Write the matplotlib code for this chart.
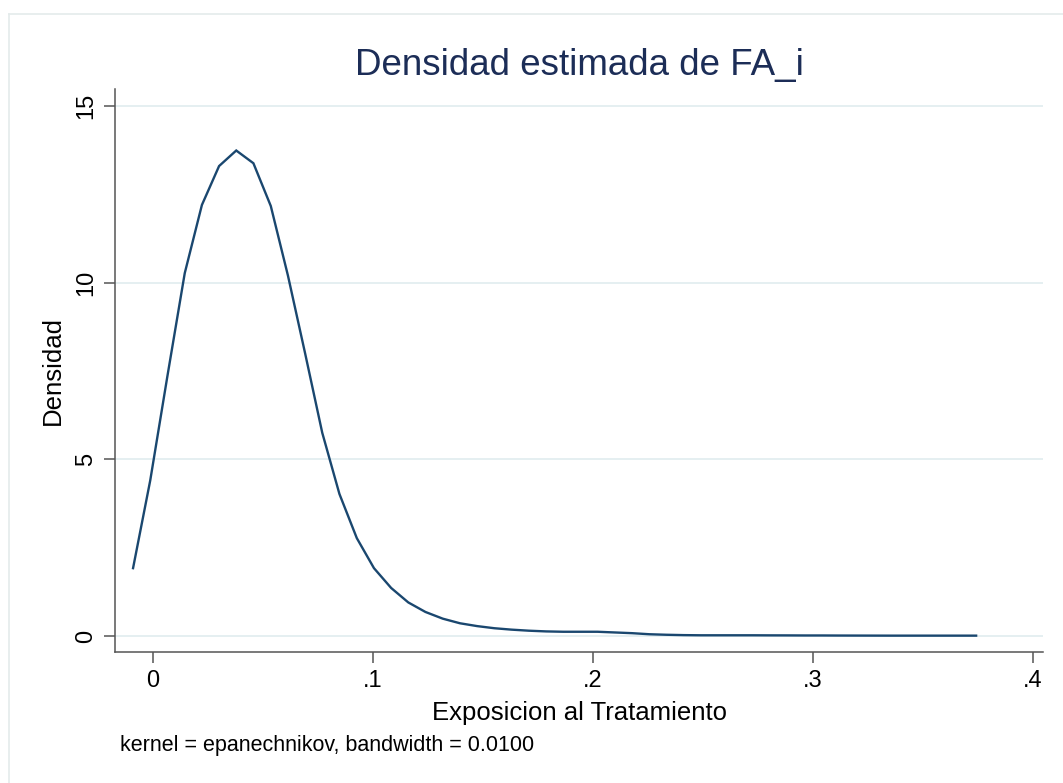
import numpy as np
import matplotlib
matplotlib.use('Agg')
import matplotlib.pyplot as plt
from matplotlib.lines import Line2D

plt.rcParams['font.family'] = ['Liberation Sans', 'DejaVu Sans']

# Kernel density estimate of FA_i (50 evaluation points)
grid_x = [-0.0091, -0.0013, 0.0065, 0.0144, 0.0222, 0.0300, 0.0378, 0.0456, 0.0535, 0.0613,
          0.0691, 0.0769, 0.0847, 0.0926, 0.1004, 0.1082, 0.1160, 0.1238, 0.1317, 0.1395,
          0.1473, 0.1551, 0.1629, 0.1708, 0.1786, 0.1864, 0.1942, 0.2020, 0.2099, 0.2177,
          0.2255, 0.2333, 0.2411, 0.2490, 0.2568, 0.2646, 0.2724, 0.2802, 0.2881, 0.2959,
          0.3037, 0.3115, 0.3193, 0.3272, 0.3350, 0.3428, 0.3506, 0.3584, 0.3663, 0.3741]
density = [1.92, 4.40, 7.35, 10.27, 12.20, 13.30, 13.74, 13.38, 12.17, 10.20,
           8.00, 5.75, 4.02, 2.77, 1.92, 1.36, 0.95, 0.68, 0.49, 0.36,
           0.28, 0.22, 0.18, 0.15, 0.13, 0.12, 0.12, 0.12, 0.10, 0.08,
           0.05, 0.035, 0.025, 0.02, 0.02, 0.02, 0.02, 0.018, 0.017, 0.015,
           0.015, 0.013, 0.012, 0.011, 0.01, 0.01, 0.01, 0.01, 0.01, 0.01]

xticks = [0, 0.1, 0.2, 0.3, 0.4]
xticklabels = ['0', '.1', '.2', '.3', '.4']
yticks = [0, 5, 10, 15]

line_color = '#1a476f'
grid_color = '#e3eef0'
axis_color = '#555555'

fig = plt.figure(figsize=(10.63, 7.83), dpi=100)
ax = fig.add_axes([0.1082, 0.1673, 0.8730, 0.7190])

ax.plot(grid_x, density, color=line_color, linewidth=1.7, solid_joinstyle='miter', zorder=3)

ax.set_xlim(-0.0173, 0.4045)
ax.set_ylim(-0.453, 15.48)
ax.set_xticks(xticks)
ax.set_xticklabels(xticklabels)
ax.set_yticks(yticks)
ax.set_yticklabels([str(v) for v in yticks], rotation=90, va='center')

ax.grid(axis='y', color=grid_color, linewidth=1.3, zorder=0)
ax.grid(axis='x', visible=False)

for side in ['top', 'right']:
    ax.spines[side].set_visible(False)
for side in ['left', 'bottom']:
    ax.spines[side].set_color(axis_color)
    ax.spines[side].set_linewidth(1.1)

ax.tick_params(axis='both', direction='out', length=8, width=1.1, color=axis_color,
               labelsize=17, labelcolor='black')
ax.tick_params(axis='x', pad=5)
ax.tick_params(axis='y', pad=5)

ax.set_xlabel('Exposicion al Tratamiento', fontsize=18.5, labelpad=6.5)
ax.set_ylabel('Densidad', fontsize=18.5, labelpad=7)
ax.set_title('Densidad estimada de FA_i', fontsize=26.5, color='#1c2d57', pad=10)

fig.text(120 / 1063, 1 - 746 / 783, 'kernel = epanechnikov, bandwidth = 0.0100',
         fontsize=15.5, ha='left', va='center')

# light outer frame of the graph region
frame_color = '#e4ebeb'
fig.add_artist(Line2D([9 / 1063, 9 / 1063], [0, 1 - 14 / 783], color=frame_color,
                      linewidth=1.2, transform=fig.transFigure))
fig.add_artist(Line2D([9 / 1063, 1], [1 - 14 / 783, 1 - 14 / 783], color=frame_color,
                      linewidth=1.2, transform=fig.transFigure))

fig.savefig('out.png', dpi=100)
